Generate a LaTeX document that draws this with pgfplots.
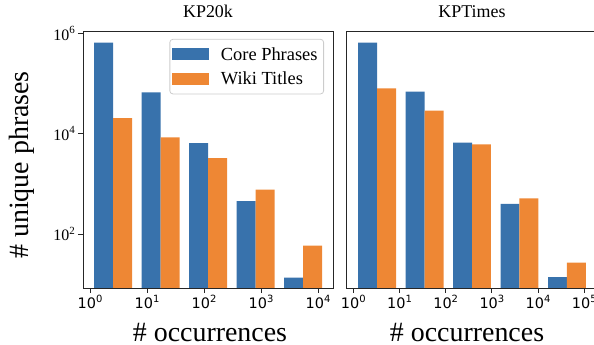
\documentclass[border=0pt]{standalone}
\usepackage{fontspec}
\setmainfont{Liberation Serif}
\newfontfamily\dejavu{DejaVu Sans}
\usepackage{pgfplots}
\pgfplotsset{compat=1.18}
\definecolor{cblue}{RGB}{56,114,172}
\definecolor{corange}{RGB}{238,135,52}
\newcommand{\sx}[1]{\raisebox{0.42em}{\fontsize{10}{10}\selectfont #1}}
\newcommand{\sy}[1]{\raisebox{0.42em}{\fontsize{11}{11}\selectfont #1}}
\begin{document}
\begin{tikzpicture}
\begin{axis}[
  scale only axis,
  at={(83bp,57bp)}, anchor=south west, width=250bp, height=256.5bp,
  ymode=log, ymin=8.4, ymax=1.086e6,
  xmin=-0.123, xmax=4.263,
  axis line style={line width=0.8bp, black!85},
  tick align=outside, tick pos=left, major tick length=5bp,
  tick style={line width=0.8bp, black!85},
  yminorticks=false, xminorticks=false,
  xtick={0,1,2,3,4},
  xticklabels={10\sx{0},10\sx{1},10\sx{2},10\sx{3},10\sx{4}},
  xticklabel style={font=\dejavu\fontsize{14.5}{15}\selectfont, inner sep=2bp},
  ytick={100,10000,1000000},
  yticklabels={10\sy{2},10\sy{4},10\sy{6}},
  yticklabel style={font=\fontsize{16}{16}\selectfont, inner sep=3bp},
  title={KP20k},
  title style={font=\fontsize{18}{18}\selectfont, at={(axis description cs:0.5,1)}, anchor=base, yshift=8.2bp},
  xlabel={\# occurrences},
  xlabel style={font=\fontsize{28}{28}\selectfont, at={(axis description cs:0.508,-0.172)}, anchor=center},
  ylabel={\# unique phrases},
  ylabel style={font=\fontsize{28}{28}\selectfont, at={(axis description cs:-0.245,0.48)}, anchor=center},
  legend image code/.code={\fill[#1,draw=none,sharp corners] (0bp,-6bp) rectangle (37bp,6bp);},
  legend style={at={(axis description cs:0.964,0.971)}, anchor=north east,
    draw=black!20, rounded corners=3bp, line width=0.8bp,
    font=\fontsize{18.5}{20}\selectfont, inner xsep=2bp, inner ysep=3bp,
    row sep=0bp, column sep=8bp,
    nodes={inner xsep=4bp, inner ysep=5bp, text depth=0.15em}},
  legend cell align=left,
]
\addplot[ybar, fill=cblue, draw=none, bar width=0.333, bar shift=0pt] coordinates {
  (0.240,650000) (1.073,66800) (1.906,6440) (2.739,450) (3.572,13.5)};
\addlegendentry{Core Phrases}
\addplot[ybar, fill=corange, draw=none, bar width=0.333, bar shift=0pt] coordinates {
  (0.573,20300) (1.406,8470) (2.239,3240) (3.072,766) (3.905,58.7)};
\addlegendentry{Wiki Titles}
\end{axis}
\begin{axis}[
  scale only axis,
  at={(346.7bp,57bp)}, anchor=south west, width=250.7bp, height=256.5bp,
  ymode=log, ymin=8.4, ymax=1.086e6,
  xmin=-0.143, xmax=5.284,
  axis line style={line width=0.8bp, black!85},
  tick align=outside, tick pos=left, major tick length=5bp,
  tick style={line width=0.8bp, black!85},
  yminorticks=false, xminorticks=false,
  xtick={0,1,2,3,4,5},
  xticklabels={10\sx{0},10\sx{1},10\sx{2},10\sx{3},10\sx{4},10\sx{5}},
  xticklabel style={font=\dejavu\fontsize{14.5}{15}\selectfont, inner sep=2bp},
  ytick=\empty,
  title={KPTimes},
  title style={font=\fontsize{18}{18}\selectfont, at={(axis description cs:0.5,1)}, anchor=base, yshift=8.2bp},
  xlabel={\# occurrences},
  xlabel style={font=\fontsize{28}{28}\selectfont, at={(axis description cs:0.48,-0.172)}, anchor=center},
]
\addplot[ybar, fill=cblue, draw=none, bar width=0.411, bar shift=0pt] coordinates {
  (0.308,650000) (1.336,68700) (2.364,6620) (3.392,398) (4.420,13.8)};
\addplot[ybar, fill=corange, draw=none, bar width=0.411, bar shift=0pt] coordinates {
  (0.719,80200) (1.747,28700) (2.775,6150) (3.803,516) (4.831,26.9)};
\end{axis}
\pgfresetboundingbox
\path[use as bounding box] (0bp,0bp) rectangle (594bp,345bp);
\end{tikzpicture}
\end{document}
